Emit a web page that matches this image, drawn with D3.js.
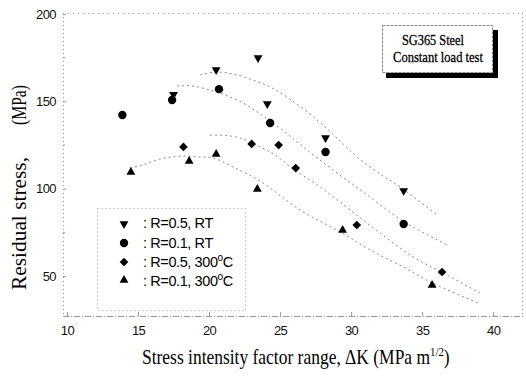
<!DOCTYPE html>
<html>
<head>
<meta charset="utf-8">
<script src="https://cdn.jsdelivr.net/npm/d3@7"></script>
<style>
  html, body { margin: 0; padding: 0; background: #fff; }
  svg { display: block; }
</style>
</head>
<body>
<svg id="chart" width="526" height="379"></svg>
<script>
// Measured residual stress vs. stress intensity factor range, SG365 steel
const seriesNames = ["R=0.5, RT", "R=0.1, RT", "R=0.5, 300", "R=0.1, 300"];

const r05rtK = [17.5, 20.5, 23.45, 24.1, 28.2, 33.7];
const r05rtS = [154.3, 168.5, 175.4, 149.0, 129.6, 99.3];

const r01rtK = [13.9, 17.4, 20.7, 24.3, 28.2, 33.7];
const r01rtS = [142.2, 150.8, 157.0, 137.6, 121.0, 79.8];

const r05htK = [18.2, 23.0, 24.9, 26.1, 30.4, 36.4];
const r05htS = [123.9, 125.6, 125.0, 111.8, 79.2, 52.3];

const r01htK = [14.5, 18.6, 20.5, 23.4, 29.4, 35.7];
const r01htS = [109.0, 115.3, 119.3, 99.3, 75.8, 44.3];

// Trend curves (fitted lines) for each series
const fitR05rtK = [19.37, 20.42, 21.69, 23.10, 24.30, 25.70, 27.61, 29.01, 30.42, 32.04, 33.45, 36.13];
const fitR05rtS = [165.1, 166.8, 165.7, 162.2, 158.2, 151.3, 139.3, 129.0, 118.1, 108.4, 101.0, 84.4];

const fitR01rtK = [17.75, 18.80, 20.07, 21.13, 22.39, 23.59, 25.00, 26.62, 28.73, 30.85, 33.73, 36.76];
const fitR01rtS = [158.8, 158.8, 156.5, 153.6, 149.1, 142.8, 134.7, 123.9, 110.7, 98.1, 81.0, 67.8];

const fitR05htK = [20.07, 21.13, 22.18, 23.59, 24.65, 25.92, 27.82, 29.93, 32.04, 34.37, 36.48, 39.08];
const fitR05htS = [130.7, 130.5, 129.0, 123.9, 119.3, 111.3, 101.0, 87.8, 74.6, 60.9, 51.7, 40.3];

const fitR01htK = [14.44, 15.35, 16.55, 17.39, 18.45, 19.37, 20.28, 21.69, 23.59, 26.41, 29.37, 31.34, 33.66, 35.70, 38.94];
const fitR01htS = [111.8, 113.6, 117.0, 118.1, 118.7, 118.1, 117.6, 112.4, 104.4, 87.8, 74.6, 64.9, 55.2, 46.0, 34.6];

const xTicks = [10, 15, 20, 25, 30, 35, 40];
const yTicks = [50, 100, 150, 200];
const yMinorTicks = [75, 125, 175];

const svg = d3.select("#chart");

const x = d3.scaleLinear().domain([9.72, 42.1]).range([63, 523]);
const y = d3.scaleLinear().domain([27.1, 200.6]).range([316, 13]);

const frameColor = "#9a9a9a";
const sans = "Liberation Sans, Arial, sans-serif";
const serif = "Liberation Serif, Times New Roman, serif";

// plot frame: dotted border
const [x0, x1] = x.range();
const [y1, y0] = y.range();
const frame = svg.append("g").attr("fill", "none").attr("stroke", frameColor).attr("stroke-width", 1);
frame.append("line").attr("x1", x0).attr("x2", x1).attr("y1", y0 + 0.5).attr("y2", y0 + 0.5).attr("stroke-dasharray", "1,4");
frame.append("line").attr("x1", x1 - 0.5).attr("x2", x1 - 0.5).attr("y1", y0).attr("y2", y1).attr("stroke-dasharray", "1,3");
frame.append("line").attr("x1", x0 + 0.5).attr("x2", x0 + 0.5).attr("y1", y0).attr("y2", y1).attr("stroke-dasharray", "1,3");
frame.append("line").attr("x1", x0).attr("x2", x1).attr("y1", y1 + 0.5).attr("y2", y1 + 0.5).attr("stroke-dasharray", "6,2,1,2");

// axes
const xAxis = d3.axisBottom(x).tickValues(xTicks).tickSize(-4).tickPadding(10).tickFormat(d3.format("d"));
const gx = svg.append("g").attr("transform", `translate(0,${y1})`).call(xAxis);
gx.select(".domain").remove();
gx.selectAll(".tick line").attr("stroke", frameColor);
gx.selectAll(".tick text")
  .attr("font-family", sans).attr("font-size", 13).attr("fill", "#111").attr("letter-spacing", "-0.6");

const yAxis = d3.axisLeft(y).tickValues(yTicks).tickSize(-3).tickPadding(7).tickFormat(d3.format("d"));
const gy = svg.append("g").attr("transform", `translate(${x0},0)`).call(yAxis);
gy.select(".domain").remove();
gy.selectAll(".tick line").attr("stroke", frameColor);
gy.selectAll(".tick text")
  .attr("font-family", sans).attr("font-size", 13).attr("fill", "#111").attr("letter-spacing", "-0.6");

svg.append("g").selectAll("line").data(yMinorTicks).join("line")
  .attr("x1", x0).attr("x2", x0 + 2).attr("y1", d => y(d)).attr("y2", d => y(d))
  .attr("stroke", frameColor);

// trend curves
const fits = [
  [fitR05rtK, fitR05rtS],
  [fitR01rtK, fitR01rtS],
  [fitR05htK, fitR05htS],
  [fitR01htK, fitR01htS]
];
const line = d3.line().x(d => x(d[0])).y(d => y(d[1])).curve(d3.curveCatmullRom.alpha(0.5));
svg.append("g").selectAll("path").data(fits).join("path")
  .attr("d", f => line(f[0].map((k, i) => [k, f[1][i]])))
  .attr("fill", "none").attr("stroke", "#8a8a8a").attr("stroke-width", 1)
  .attr("stroke-dasharray", "2,3");

// markers
const markers = [
  { type: d3.symbolTriangle, size: 34, rot: 180, dy: 0.8 },
  { type: d3.symbolCircle, size: 55, rot: 0, dy: 0 },
  { type: d3.symbolSquare, size: 38, rot: 45, dy: 0 },
  { type: d3.symbolTriangle, size: 34, rot: 0, dy: -0.8 }
];
const points = [
  [r05rtK, r05rtS],
  [r01rtK, r01rtS],
  [r05htK, r05htS],
  [r01htK, r01htS]
];
points.forEach((p, si) => {
  const m = markers[si];
  const sym = d3.symbol().type(m.type).size(m.size);
  svg.append("g").selectAll("path").data(p[0].map((k, i) => [k, p[1][i]])).join("path")
    .attr("d", sym)
    .attr("transform", d => `translate(${x(d[0])},${y(d[1]) + m.dy}) rotate(${m.rot})`)
    .attr("fill", "#000");
});

// legend
const legend = svg.append("g");
legend.append("rect").attr("x", 97.5).attr("y", 208.5).attr("width", 148).attr("height", 102)
  .attr("fill", "none").attr("stroke", frameColor).attr("stroke-dasharray", "1,3");
const legendY = [223, 243, 262, 281];
seriesNames.forEach((name, i) => {
  const m = markers[i];
  legend.append("path").attr("d", d3.symbol().type(m.type).size(m.size))
    .attr("transform", `translate(124,${legendY[i] + m.dy}) rotate(${m.rot})`).attr("fill", "#000");
  const t = legend.append("text").attr("x", 143).attr("y", legendY[i] + 5)
    .attr("font-family", sans).attr("font-size", 14.5)
    .attr("letter-spacing", "-0.4").attr("fill", "#000");
  if (i < 2) {
    t.text(": " + name);
  } else {
    t.append("tspan").text(": " + name);
    t.append("tspan").attr("dy", -6).attr("font-size", 10).text("o");
    t.append("tspan").attr("dy", 6).text("C");
  }
});

// test condition box with a heavy drop shadow on the right and bottom
const note = svg.append("g");
note.append("rect").attr("x", 382.5).attr("y", 25.5).attr("width", 110).attr("height", 47)
  .attr("fill", "#fff").attr("stroke", "#888").attr("stroke-width", 1).attr("stroke-dasharray", "3,1");
note.append("rect").attr("x", 493).attr("y", 30).attr("width", 5).attr("height", 48).attr("fill", "#000");
note.append("rect").attr("x", 386).attr("y", 73).attr("width", 112).attr("height", 5).attr("fill", "#000");
note.append("text").attr("x", 433).attr("y", 45).attr("text-anchor", "middle")
  .attr("font-family", serif).attr("font-size", 15).attr("stroke", "#000").attr("stroke-width", 0.3)
  .attr("textLength", 62).attr("lengthAdjust", "spacingAndGlyphs").text("SG365 Steel");
note.append("text").attr("x", 438).attr("y", 62).attr("text-anchor", "middle")
  .attr("font-family", serif).attr("font-size", 15).attr("stroke", "#000").attr("stroke-width", 0.3)
  .attr("textLength", 90).attr("lengthAdjust", "spacingAndGlyphs").text("Constant load test");

// x-axis title, squeezed horizontally to its printed width
const xtG = svg.append("g");
const xt = xtG.append("text").attr("x", 0).attr("y", 0)
  .attr("font-family", serif).attr("font-size", 21).attr("fill", "#000");
xt.append("tspan").text("Stress intensity factor range, \u0394K (MPa m");
xt.append("tspan").attr("dy", -8).attr("font-size", 13).text("1/2");
xt.append("tspan").attr("dy", 8).text(")");
const xtWidth = xt.node().getBBox().width;
xtG.attr("transform", `translate(142,364) scale(${308 / xtWidth},1)`);

// y-axis title
svg.append("text").attr("transform", "translate(26,290) rotate(-90)")
  .attr("font-family", serif).attr("font-size", 20)
  .attr("textLength", 133).attr("lengthAdjust", "spacingAndGlyphs").text("Residual stress,");
svg.append("text").attr("transform", "translate(26,125) rotate(-90)")
  .attr("font-family", serif).attr("font-size", 20)
  .attr("textLength", 40).attr("lengthAdjust", "spacingAndGlyphs").text("(MPa)");
</script>
</body>
</html>
